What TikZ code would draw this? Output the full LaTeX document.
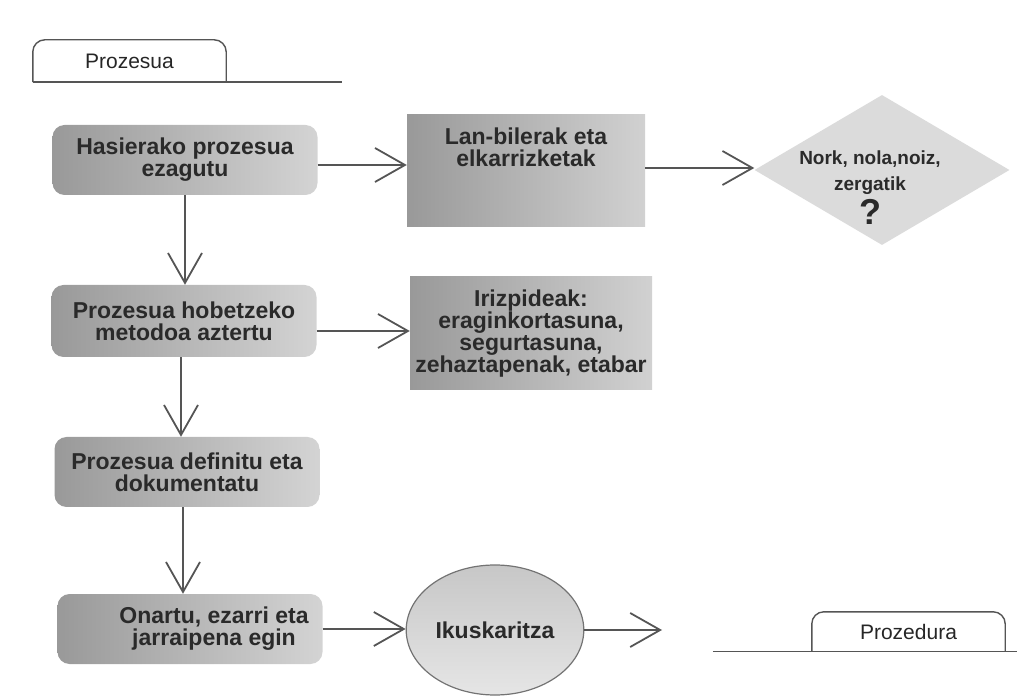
\documentclass[tikz,border=0pt]{standalone}
\usepackage{fontspec}
\setmainfont{Liberation Sans}
\usepackage{tikz}
\usetikzlibrary{arrows.meta, calc, positioning, shapes.geometric}
\definecolor{txtgray}{HTML}{2A2A2A}
\definecolor{linegray}{HTML}{555555}
\tikzset{
  prbox/.style = {rounded corners=12pt, left color=black!40, right color=black!17, minimum width=265pt, minimum height=70pt,
    font=\fontsize{23}{22}\selectfont\bfseries, text=txtgray, align=center},
  sqbox/.style = {left color=black!40, right color=black!18, font=\fontsize{23}{22}\selectfont\bfseries, text=txtgray, align=center},
  arr/.style = {draw=linegray, line width=2.5pt, -{Straight Barb[length=30pt, width=34pt, line width=1.8pt]}},
  tabnode/.style = {minimum width=193pt, font=\fontsize{21}{21}\selectfont, text=black!85},
  tabline/.style = {draw=linegray, line width=1.4pt, rounded corners=12pt}
}

\begin{document}
\begin{tikzpicture}[x=1pt, y=-1pt]
  \useasboundingbox (0,0) rectangle (1029,700);

  % tabs
  \node[tabnode, minimum height=42pt] (prozesua) at (129.5,61) {Prozesua};
  \draw[tabline] (prozesua.south west) -- (prozesua.north west) -- (prozesua.north east) -- (prozesua.south east);
  \draw[tabline] (prozesua.south west) -- ++(309,0);
  \node[tabnode, minimum height=39pt] (prozedura) at (908.5,631.5) {Prozedura};
  \draw[tabline] (prozedura.south west) -- (prozedura.north west) -- (prozedura.north east) -- (prozedura.south east);
  \draw[tabline] ([xshift=-99pt]prozedura.south west) -- ([xshift=12pt]prozedura.south east);

  % main column
  \node[prbox] (hasi) at (185,160) {Hasierako prozesua\\ezagutu};
  \node[prbox, minimum height=72pt] (hobe) at (184,321) {Prozesua hobetzeko\\metodoa aztertu};
  \node[prbox] (defin) at (187,472) {Prozesua definitu eta\\dokumentatu};
  \node[prbox] (onartu) at (190,629) {};
  \node[font=\fontsize{23}{22}\selectfont\bfseries, text=txtgray, align=center] (onartutxt) at ([xshift=24pt]onartu.center) {Onartu, ezarri eta\\jarraipena egin};

  % side boxes
  \node[sqbox, minimum width=238pt, minimum height=112pt] (lan) at (526,171) {};
  \node[font=\fontsize{23}{22}\selectfont\bfseries, text=txtgray, align=center, below=10pt of lan.north] (lantxt) {Lan-bilerak eta\\elkarrizketak};
  \node[sqbox, minimum width=242pt, minimum height=113pt] (iriz) at (531,333.5) {Irizpideak:\\eraginkortasuna,\\segurtasuna,\\zehaztapenak, etabar};

  % diamond and ellipse
  \node[diamond, fill=black!14, minimum width=255pt, minimum height=150pt, inner sep=0pt] (galde) at (882,170) {};
  \node[font=\fontsize{19}{26}\selectfont\bfseries, text=txtgray, align=center] (galdetxt) at (870,188) {Nork, nola,noiz,\\zergatik\\[4pt]{\fontsize{36}{30}\selectfont ?}};
  \node[ellipse, draw=black!55, line width=1.2pt, top color=black!22, bottom color=black!10, minimum width=166pt, minimum height=130pt,
    font=\fontsize{23}{22}\selectfont\bfseries, text=txtgray] (ikus) at (495,630) {Ikuskaritza};
  \coordinate (ikusend) at (662,630);

  % connectors
  \draw[arr] ([yshift=-5pt]hasi.east) -- ([yshift=-5pt]hasi.east -| lan.west);
  \draw[arr] ([yshift=3pt]lan.east) -- ([yshift=3pt]lan.east -| galde.west);
  \draw[arr, line width=2pt] (hasi.south) -- (hasi.south |- hobe.north);
  \draw[arr] ([yshift=-10pt]hobe.east) -- ([yshift=-10pt]hobe.east -| iriz.west);
  \draw[arr, line width=2pt] ([xshift=-3pt]hobe.south) -- ([xshift=-3pt]hobe.south |- defin.north);
  \draw[arr, line width=2pt] ([xshift=-4pt]defin.south) -- ([xshift=-4pt]defin.south |- onartu.north);
  \draw[arr] (onartu.east) -- (onartu.east -| ikus.west);
  \draw[arr] (ikus.east) -- (ikusend);
\end{tikzpicture}
\end{document}
